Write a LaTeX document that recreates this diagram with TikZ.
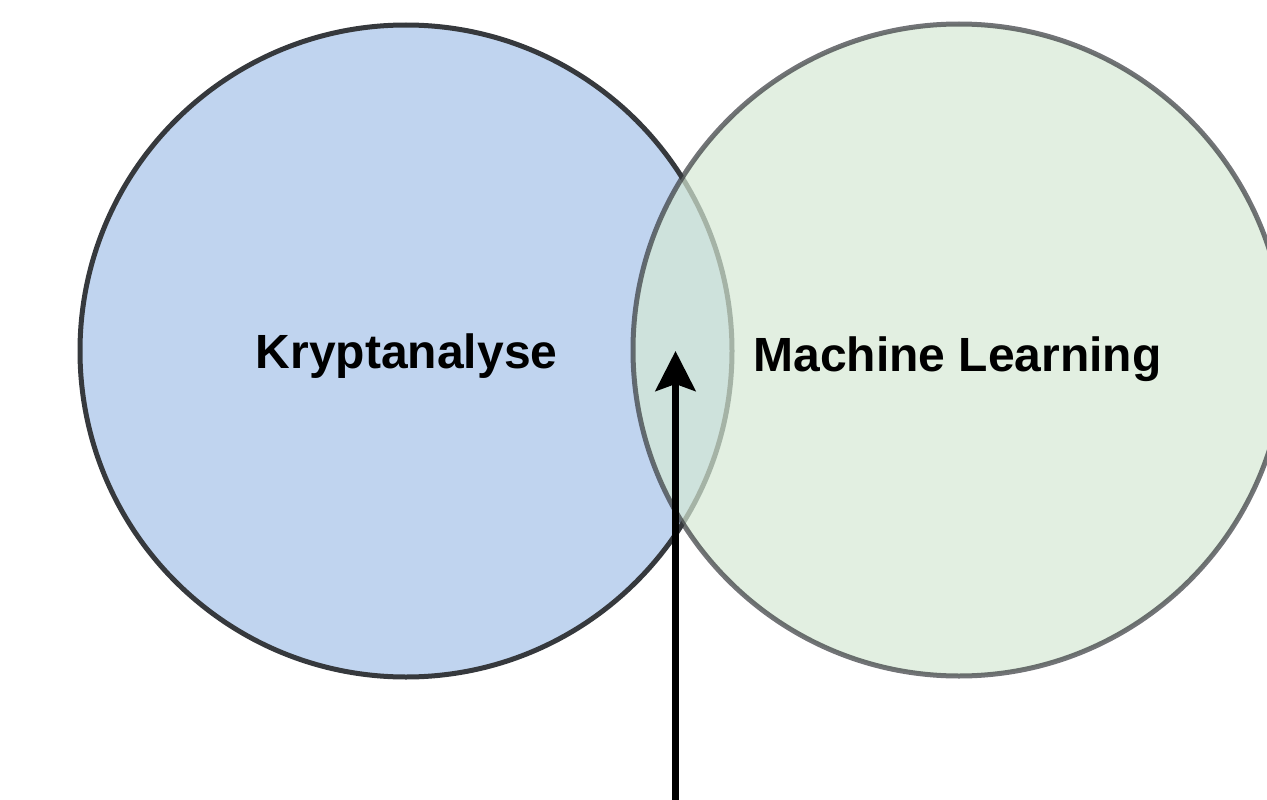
\documentclass[tikz,border=0pt]{standalone}
\usepackage{fontspec}
\setmainfont{Liberation Sans}
\usetikzlibrary{arrows.meta}
\definecolor{edgedark}{RGB}{54,57,61}
\definecolor{bluefill}{RGB}{192,212,239}
\definecolor{greenfill}{RGB}{213,232,212}
\tikzset{
  setcircle/.style={circle, draw=edgedark, line width=5pt, inner sep=0pt, minimum size=652pt},
  setlabel/.style={anchor=base, inner sep=0pt, font=\fontsize{48}{58}\selectfont\bfseries},
  pointer/.style={line width=6.5pt, draw=black, -{Stealth[length=40pt, width=40pt, inset=7pt]}}
}
\begin{document}
\begin{tikzpicture}[x=1pt, y=-1pt]
  \useasboundingbox (0,0) rectangle (1267,800);
  % the two sets
  \node[setcircle, fill=bluefill] (krypto) at (406,351) {};
  \node[setcircle, fill=greenfill, opacity=0.7] (ml) at (959,350) {};
  % labels
  \node[setlabel] (kryptolabel) at (406.7,368.3) {Kryptanalyse};
  \node[setlabel] (mllabel) at (957.5,371.7) {Machine Learning};
  % pointer into the intersection
  \coordinate (pointerstart) at (675.5,805);
  \coordinate (pointertip) at (675.5,351);
  \draw[pointer] (pointerstart) -- (pointertip);
\end{tikzpicture}
\end{document}
